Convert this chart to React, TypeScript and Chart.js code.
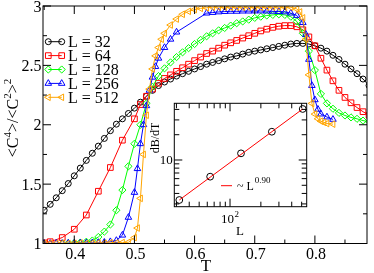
import React, { useEffect, useRef } from 'react';
import { Chart, registerables } from 'chart.js';

Chart.register(...registerables);

const FONT = '"Liberation Serif", "Times New Roman", serif';

// ---------- main chart data ----------
const T32 = [0.35, 0.36, 0.37, 0.38, 0.39, 0.40, 0.41, 0.42, 0.43, 0.44, 0.45, 0.46, 0.47, 0.48, 0.49, 0.50, 0.51, 0.52, 0.53, 0.54, 0.55, 0.56, 0.57, 0.58, 0.59, 0.60, 0.61, 0.62, 0.63, 0.64, 0.65, 0.66, 0.67, 0.68, 0.69, 0.70, 0.71, 0.72, 0.73, 0.74, 0.75, 0.76, 0.77, 0.78, 0.79, 0.80, 0.81, 0.82, 0.83, 0.84, 0.85, 0.86, 0.87, 0.88, 0.89];
const C32 = [1.28, 1.33, 1.385, 1.445, 1.505, 1.57, 1.635, 1.70, 1.76, 1.82, 1.885, 1.95, 2.005, 2.05, 2.095, 2.14, 2.19, 2.24, 2.29, 2.33, 2.36, 2.385, 2.41, 2.43, 2.45, 2.47, 2.49, 2.51, 2.525, 2.54, 2.555, 2.57, 2.58, 2.595, 2.61, 2.62, 2.63, 2.64, 2.65, 2.66, 2.67, 2.68, 2.685, 2.685, 2.68, 2.665, 2.645, 2.62, 2.585, 2.55, 2.51, 2.47, 2.43, 2.385, 2.33];

const T64 = [0.35, 0.36, 0.38, 0.40, 0.42, 0.44, 0.46, 0.48, 0.50, 0.51, 0.52, 0.53, 0.54, 0.55, 0.56, 0.57, 0.58, 0.59, 0.60, 0.61, 0.62, 0.63, 0.64, 0.65, 0.66, 0.67, 0.68, 0.69, 0.70, 0.71, 0.72, 0.73, 0.74, 0.75, 0.76, 0.77, 0.78, 0.79, 0.80, 0.81, 0.82, 0.83, 0.84, 0.85, 0.86, 0.87, 0.88, 0.89];
const C64 = [1.005, 1.015, 1.05, 1.12, 1.24, 1.44, 1.64, 1.87, 2.05, 2.17, 2.24, 2.30, 2.35, 2.39, 2.42, 2.45, 2.48, 2.51, 2.54, 2.57, 2.60, 2.62, 2.645, 2.67, 2.69, 2.71, 2.73, 2.75, 2.77, 2.79, 2.805, 2.82, 2.83, 2.835, 2.835, 2.825, 2.80, 2.74, 2.665, 2.56, 2.46, 2.37, 2.29, 2.23, 2.185, 2.145, 2.11, 2.08];

const T128 = [0.38, 0.39, 0.40, 0.41, 0.42, 0.43, 0.44, 0.45, 0.46, 0.47, 0.48, 0.49, 0.50, 0.51, 0.52, 0.53, 0.54, 0.55, 0.56, 0.57, 0.58, 0.59, 0.60, 0.61, 0.62, 0.63, 0.64, 0.65, 0.66, 0.67, 0.68, 0.69, 0.70, 0.71, 0.72, 0.73, 0.74, 0.75, 0.76, 0.77, 0.78, 0.79, 0.80, 0.81, 0.82, 0.83, 0.84, 0.85, 0.86, 0.87, 0.88, 0.89];
const C128 = [1.0, 1.003, 1.005, 1.008, 1.015, 1.025, 1.055, 1.10, 1.16, 1.28, 1.45, 1.65, 1.84, 2.00, 2.18, 2.32, 2.41, 2.475, 2.525, 2.57, 2.61, 2.645, 2.68, 2.715, 2.745, 2.77, 2.795, 2.815, 2.835, 2.855, 2.87, 2.885, 2.90, 2.91, 2.92, 2.925, 2.93, 2.925, 2.91, 2.87, 2.77, 2.62, 2.46, 2.26, 2.18, 2.135, 2.10, 2.078, 2.062, 2.05, 2.035, 2.026];

const T256 = [0.35, 0.36, 0.37, 0.38, 0.39, 0.40, 0.41, 0.42, 0.43, 0.44, 0.45, 0.46, 0.47, 0.48, 0.49, 0.50, 0.505, 0.51, 0.515, 0.52, 0.525, 0.53, 0.535, 0.54, 0.55, 0.56, 0.57, 0.62, 0.63, 0.64, 0.65, 0.66, 0.67, 0.68, 0.69, 0.70, 0.71, 0.72, 0.73, 0.74, 0.75, 0.76, 0.77, 0.78, 0.785, 0.79, 0.795, 0.80, 0.805, 0.81, 0.82, 0.83];
const C256 = [1.0, 1.0, 1.002, 1.0, 1.003, 1.002, 1.004, 1.005, 1.006, 1.008, 1.01, 1.015, 1.025, 1.07, 1.22, 1.43, 1.63, 1.84, 2.00, 2.16, 2.29, 2.40, 2.49, 2.56, 2.65, 2.72, 2.78, 2.94, 2.945, 2.95, 2.953, 2.955, 2.955, 2.957, 2.957, 2.958, 2.958, 2.957, 2.955, 2.953, 2.95, 2.94, 2.92, 2.86, 2.76, 2.55, 2.33, 2.21, 2.13, 2.09, 2.065, 2.045];

const T512 = [0.35, 0.36, 0.37, 0.38, 0.39, 0.40, 0.41, 0.42, 0.43, 0.44, 0.45, 0.46, 0.47, 0.48, 0.49, 0.50, 0.505, 0.51, 0.515, 0.52, 0.525, 0.53, 0.535, 0.54, 0.545, 0.55, 0.56, 0.57, 0.58, 0.59, 0.60, 0.61, 0.62, 0.63, 0.64, 0.65, 0.66, 0.67, 0.68, 0.69, 0.70, 0.71, 0.72, 0.73, 0.74, 0.75, 0.76, 0.77, 0.775, 0.78, 0.785, 0.79, 0.795, 0.80, 0.805, 0.81, 0.815, 0.82, 0.83];
const C512 = [1.0, 1.002, 1.0, 1.003, 1.0, 1.002, 1.004, 1.0, 1.003, 1.005, 1.002, 1.006, 1.004, 1.008, 1.01, 1.05, 1.13, 1.38, 1.75, 2.08, 2.30, 2.47, 2.58, 2.65, 2.72, 2.77, 2.84, 2.89, 2.93, 2.955, 2.97, 2.98, 2.985, 2.99, 2.99, 2.99, 2.99, 2.99, 2.99, 2.99, 2.99, 2.99, 2.99, 2.99, 2.99, 2.99, 2.99, 2.975, 2.95, 2.90, 2.72, 2.42, 2.18, 2.09, 2.05, 2.03, 2.02, 2.01, 2.005];

const SERIES_LABELS = ['L = 32', 'L = 64', 'L = 128', 'L = 256', 'L = 512'];
const SERIES_T = [T32, T64, T128, T256, T512];
const SERIES_C = [C32, C64, C128, C256, C512];

// ---------- inset data ----------
const INSET_L = [32, 64, 128, 256, 512];
const INSET_DBDT = [3.34, 6.33, 12.0, 21.7, 40.5];
const FIT_L = [32, 512];
const FIT_DBDT = [3.34, 40.5];

// styles
const COLORS = ['#000000', '#ff0000', '#00ff00', '#0000ff', '#ffa500'];
const STYLES = ['circle', 'rect', 'rectRot', 'triangle', 'triangle'];
const RADII = [3.0, 4.0, 3.6, 3.8, 3.8];
const ROTS = [0, 0, 0, 0, -90];

function drawMarker(ctx: CanvasRenderingContext2D, style: string, x: number, y: number, r: number, rot: number) {
  ctx.beginPath();
  if (style === 'circle') {
    ctx.arc(x, y, r, 0, Math.PI * 2);
  } else if (style === 'rect') {
    const s = r * Math.SQRT1_2;
    ctx.rect(x - s, y - s, 2 * s, 2 * s);
  } else if (style === 'rectRot') {
    ctx.moveTo(x, y - r);
    ctx.lineTo(x + r, y);
    ctx.lineTo(x, y + r);
    ctx.lineTo(x - r, y);
    ctx.closePath();
  } else {
    let a = (rot * Math.PI) / 180;
    ctx.moveTo(x + Math.sin(a) * r, y - Math.cos(a) * r);
    a += (2 * Math.PI) / 3;
    ctx.lineTo(x + Math.sin(a) * r, y - Math.cos(a) * r);
    a += (2 * Math.PI) / 3;
    ctx.lineTo(x + Math.sin(a) * r, y - Math.cos(a) * r);
    ctx.closePath();
  }
  ctx.stroke();
}

function drawParts(ctx: CanvasRenderingContext2D, parts: { t: string; sup: boolean }[], size: number, supSize: number, supRaise: number, cx: number) {
  let total = 0;
  const widths = parts.map((p) => {
    ctx.font = `${p.sup ? supSize : size}px ${FONT}`;
    const w = ctx.measureText(p.t).width;
    total += w;
    return w;
  });
  let x = cx - total / 2;
  parts.forEach((p, i) => {
    ctx.font = `${p.sup ? supSize : size}px ${FONT}`;
    ctx.fillText(p.t, x, p.sup ? -supRaise : 0);
    x += widths[i];
  });
}

const mainDeco = {
  id: 'mainDeco',
  afterDraw(chart: any) {
    const { ctx, chartArea } = chart;
    const { left, right, top, bottom } = chartArea;
    const xs = chart.scales.x;
    const ys = chart.scales.y;
    ctx.save();
    ctx.strokeStyle = '#000';
    ctx.fillStyle = '#000';
    ctx.lineWidth = 1;
    ctx.strokeRect(left, top, right - left, bottom - top);
    // x ticks (inward, bottom & top)
    for (let k = 7; k <= 17; k++) {
      const v = k * 0.05;
      const px = xs.getPixelForValue(v);
      if (px < left || px > right) continue;
      const len = k % 2 === 0 ? 8 : 4;
      ctx.beginPath();
      ctx.moveTo(px, bottom);
      ctx.lineTo(px, bottom - len);
      ctx.moveTo(px, top);
      ctx.lineTo(px, top + len);
      ctx.stroke();
    }
    for (let k = 4; k <= 12; k++) {
      const v = k * 0.25;
      const py = ys.getPixelForValue(v);
      const len = k % 2 === 0 ? 8 : 4;
      ctx.beginPath();
      ctx.moveTo(left, py);
      ctx.lineTo(left + len, py);
      ctx.moveTo(right, py);
      ctx.lineTo(right - len, py);
      ctx.stroke();
    }
    // tick labels
    ctx.font = `16px ${FONT}`;
    ctx.textBaseline = 'alphabetic';
    ctx.textAlign = 'center';
    xs.ticks.forEach((t: any) => {
      const px = xs.getPixelForValue(t.value);
      ctx.fillText(Number(t.value).toFixed(1), px + 1, 258.5);
    });
    ctx.textAlign = 'right';
    ys.ticks.forEach((t: any) => {
      const py = ys.getPixelForValue(t.value);
      ctx.fillText(String(t.value), left - 1.5, py + 5.5);
    });
    // axis titles
    ctx.textAlign = 'center';
    ctx.font = `17px ${FONT}`;
    ctx.fillText('T', 206, 271);
    ctx.save();
    ctx.translate(17.5, 118);
    ctx.rotate(-Math.PI / 2);
    ctx.textAlign = 'left';
    drawParts(
      ctx,
      [
        { t: '<C', sup: false },
        { t: '4', sup: true },
        { t: '>/<C', sup: false },
        { t: '2', sup: true },
        { t: '>', sup: false },
        { t: '2', sup: true },
      ],
      16,
      11,
      7,
      0
    );
    ctx.restore();
    // legend
    ctx.textAlign = 'left';
    ctx.textBaseline = 'middle';
    ctx.font = `16px ${FONT}`;
    SERIES_LABELS.forEach((lab, i) => {
      const y = 41.7 + i * 13.9;
      ctx.strokeStyle = COLORS[i];
      ctx.lineWidth = 1;
      ctx.beginPath();
      ctx.moveTo(48.3, y);
      ctx.lineTo(61.7, y);
      ctx.stroke();
      drawMarker(ctx, STYLES[i], 48.3, y, RADII[i], ROTS[i]);
      drawMarker(ctx, STYLES[i], 61.7, y, RADII[i], ROTS[i]);
      ctx.fillStyle = '#000';
      ctx.fillText(lab, 68, y + 1);
    });
    ctx.restore();
  },
};

const LOG_X_TICKS = [30, 40, 50, 60, 70, 80, 90, 100, 200, 300, 400, 500];
const LOG_Y_TICKS = [3, 4, 5, 6, 7, 8, 9, 10, 20, 30, 40];

const insetDeco = {
  id: 'insetDeco',
  beforeDraw(chart: any) {
    const { ctx, chartArea } = chart;
    ctx.save();
    ctx.fillStyle = '#fff';
    ctx.fillRect(chartArea.left, chartArea.top, chartArea.right - chartArea.left, chartArea.bottom - chartArea.top);
    ctx.restore();
  },
  afterDraw(chart: any) {
    const { ctx, chartArea } = chart;
    const { left, right, top, bottom } = chartArea;
    const xs = chart.scales.x;
    const ys = chart.scales.y;
    ctx.save();
    ctx.strokeStyle = '#000';
    ctx.fillStyle = '#000';
    ctx.lineWidth = 1;
    ctx.strokeRect(left, top, right - left, bottom - top);
    LOG_X_TICKS.forEach((v) => {
      const px = xs.getPixelForValue(v);
      const len = v === 100 ? 8 : 5;
      ctx.beginPath();
      ctx.moveTo(px, bottom);
      ctx.lineTo(px, bottom - len);
      ctx.moveTo(px, top);
      ctx.lineTo(px, top + len);
      ctx.stroke();
    });
    LOG_Y_TICKS.forEach((v) => {
      const py = ys.getPixelForValue(v);
      const len = v === 10 ? 8 : 5;
      ctx.beginPath();
      ctx.moveTo(left, py);
      ctx.lineTo(left + len, py);
      ctx.moveTo(right, py);
      ctx.lineTo(right - len, py);
      ctx.stroke();
    });
    // labels
    ctx.textBaseline = 'alphabetic';
    ctx.font = `13px ${FONT}`;
    ctx.textAlign = 'right';
    ctx.fillText('10', left - 1.5, ys.getPixelForValue(10) + 4.5);
    const p100 = xs.getPixelForValue(100);
    ctx.fillText('10', p100 + 4, 223);
    ctx.textAlign = 'left';
    ctx.font = `9px ${FONT}`;
    ctx.fillText('2', p100 + 4.5, 217);
    ctx.textAlign = 'center';
    ctx.font = `13px ${FONT}`;
    ctx.fillText('L', 240, 235);
    ctx.save();
    ctx.translate(159, 138);
    ctx.rotate(-Math.PI / 2);
    ctx.font = `12px ${FONT}`;
    ctx.fillText('dB/dT', 0, 0);
    ctx.restore();
    // inset legend
    ctx.strokeStyle = '#ff0000';
    ctx.beginPath();
    ctx.moveTo(221, 185.7);
    ctx.lineTo(232, 185.7);
    ctx.stroke();
    ctx.textAlign = 'left';
    ctx.font = `12px ${FONT}`;
    ctx.fillText('~ L', 237, 190);
    const w = ctx.measureText('~ L').width;
    ctx.font = `9px ${FONT}`;
    ctx.fillText('0.90', 237 + w + 1, 183);
    ctx.restore();
  },
};

export default function App() {
  const mainRef = useRef<HTMLCanvasElement | null>(null);
  const insetRef = useRef<HTMLCanvasElement | null>(null);

  useEffect(() => {
    if (!mainRef.current || !insetRef.current) return;
    const datasets = SERIES_LABELS.map((label, i) => ({
      label,
      data: SERIES_T[i].map((t, j) => ({ x: t, y: SERIES_C[i][j] })),
      borderColor: COLORS[i],
      borderWidth: 1,
      pointStyle: STYLES[i] as any,
      pointRadius: RADII[i],
      pointRotation: ROTS[i],
      pointBorderColor: COLORS[i],
      pointBackgroundColor: 'rgba(0,0,0,0)',
      pointBorderWidth: 1,
      fill: false,
      tension: 0,
      order: 4 - i,
    }));
    const main = new Chart(mainRef.current, {
      type: 'line',
      data: { datasets },
      options: {
        responsive: false,
        maintainAspectRatio: false,
        devicePixelRatio: 1,
        animation: false,
        events: [],
        layout: { padding: { left: 0, top: 6, right: 7, bottom: 0 } },
        plugins: { legend: { display: false }, tooltip: { enabled: false } },
        scales: {
          x: {
            type: 'linear',
            min: 0.348,
            max: 0.8866,
            grid: { display: false, drawTicks: false },
            border: { display: false },
            ticks: { display: false, stepSize: 0.1, includeBounds: false, autoSkip: false },
            afterFit: (s: any) => {
              s.height = 29.5;
            },
          },
          y: {
            type: 'linear',
            min: 1,
            max: 3,
            grid: { display: false, drawTicks: false },
            border: { display: false },
            ticks: { display: false, stepSize: 0.5, includeBounds: false },
            afterFit: (s: any) => {
              s.width = 43;
            },
          },
        },
      },
      plugins: [mainDeco],
    });

    const inset = new Chart(insetRef.current, {
      type: 'line',
      data: {
        datasets: [
          {
            data: FIT_L.map((l, i) => ({ x: l, y: FIT_DBDT[i] })),
            borderColor: '#ff0000',
            borderWidth: 1,
            pointRadius: 0,
            fill: false,
          },
          {
            data: INSET_L.map((l, i) => ({ x: l, y: INSET_DBDT[i] })),
            showLine: false,
            borderColor: '#000',
            pointStyle: 'circle',
            pointRadius: 3.4,
            pointBorderColor: '#000',
            pointBorderWidth: 1,
            pointBackgroundColor: 'rgba(0,0,0,0)',
          },
        ],
      },
      options: {
        responsive: false,
        maintainAspectRatio: false,
        devicePixelRatio: 1,
        animation: false,
        events: [],
        layout: { padding: { left: 174.3, top: 103.3, right: 67.3, bottom: 66.3 } },
        plugins: { legend: { display: false }, tooltip: { enabled: false } },
        scales: {
          x: { type: 'logarithmic', min: 28.6, max: 560, display: false },
          y: { type: 'logarithmic', min: 2.78, max: 47.3, display: false },
        },
      },
      plugins: [insetDeco],
    });

    return () => {
      main.destroy();
      inset.destroy();
    };
  }, []);

  return (
    <div style={{ position: 'fixed', left: 0, top: 0, width: 374, height: 273, background: '#fff' }}>
      <canvas ref={mainRef} width={374} height={273} style={{ position: 'absolute', left: 0, top: 0, width: 374, height: 273 }} />
      <canvas ref={insetRef} width={374} height={273} style={{ position: 'absolute', left: 0, top: 0, width: 374, height: 273 }} />
    </div>
  );
}
